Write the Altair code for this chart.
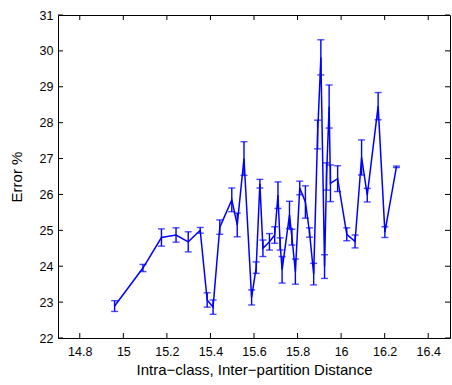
import altair as alt
import pandas as pd

# Data
x_vals = [14.96, 15.09, 15.175, 15.242, 15.298, 15.353, 15.385, 15.412, 15.443, 15.498,
          15.523, 15.554, 15.589, 15.61, 15.627, 15.641, 15.671, 15.695, 15.71, 15.72,
          15.729, 15.763, 15.774, 15.79, 15.81, 15.836, 15.855, 15.874, 15.892, 15.907,
          15.924, 15.933, 15.945, 15.951, 15.984, 16.026, 16.064, 16.094, 16.12, 16.17,
          16.201, 16.254]
y_vals = [22.89, 23.95, 24.80, 24.87, 24.68, 25.00, 23.06, 22.86, 25.09, 25.85,
          25.15, 27.00, 23.13, 23.96, 26.30, 24.50, 24.68, 24.87, 25.98, 24.62,
          23.90, 25.43, 24.81, 23.85, 26.18, 25.79, 24.94, 23.78, 27.67, 29.82,
          23.99, 26.50, 28.45, 26.31, 26.44, 24.89, 24.69, 27.03, 25.98, 28.46,
          24.95, 26.77]
err_vals = [0.15, 0.10, 0.24, 0.20, 0.28, 0.08, 0.20, 0.20, 0.20, 0.33,
            0.33, 0.47, 0.21, 0.16, 0.12, 0.23, 0.23, 0.23, 0.37, 0.17,
            0.37, 0.38, 0.22, 0.35, 0.19, 0.45, 0.13, 0.30, 0.40, 0.49,
            0.33, 0.38, 0.60, 0.51, 0.36, 0.18, 0.18, 0.49, 0.19, 0.38,
            0.15, 0.02]

x_ticks = [14.8, 15.0, 15.2, 15.4, 15.6, 15.8, 16.0, 16.2, 16.4]
y_ticks = [22, 23, 24, 25, 26, 27, 28, 29, 30, 31]

df = pd.DataFrame({"x": x_vals, "y": y_vals, "err": err_vals})
df["lo"] = df["y"] - df["err"]
df["hi"] = df["y"] + df["err"]

W, H = 392, 323
FONT = "Liberation Sans"
BLUE = "#0000ff"

xscale = alt.Scale(domain=[14.7, 16.5], nice=False, zero=False)
yscale = alt.Scale(domain=[22, 31], nice=False, zero=False)

xaxis = alt.Axis(values=x_ticks, format="~g", ticks=False, domain=False,
                 grid=False, labelPadding=7, labelFontSize=12.5,
                 labelFont=FONT, labelColor="black", labelOverlap=False,
                 title="Intra\u2212class, Inter\u2212partition Distance",
                 titleFont=FONT, titleFontSize=15, titleFontWeight="normal",
                 titleColor="black", titlePadding=5)
yaxis = alt.Axis(values=y_ticks, format="d", ticks=False, domain=False,
                 grid=False, labelPadding=5, labelFontSize=12.5,
                 labelFont=FONT, labelColor="black", labelOverlap=False,
                 labelFlush=False,
                 title="Error %", titleFont=FONT, titleFontSize=15,
                 titleFontWeight="normal", titleColor="black",
                 titlePadding=15)

base = alt.Chart(df)

line = base.mark_line(color=BLUE, strokeWidth=1.5).encode(
    x=alt.X("x:Q", scale=xscale, axis=xaxis),
    y=alt.Y("y:Q", scale=yscale, axis=yaxis),
)

bars = base.mark_rule(color=BLUE, strokeWidth=1.4).encode(
    x=alt.X("x:Q", scale=xscale, axis=xaxis),
    y=alt.Y("lo:Q", scale=yscale, axis=yaxis), y2="hi:Q")

caps_hi = base.mark_tick(color=BLUE, orient="horizontal", size=7, thickness=1.4).encode(
    x=alt.X("x:Q", scale=xscale, axis=xaxis),
    y=alt.Y("hi:Q", scale=yscale, axis=yaxis))
caps_lo = base.mark_tick(color=BLUE, orient="horizontal", size=7, thickness=1.4).encode(
    x=alt.X("x:Q", scale=xscale, axis=xaxis),
    y=alt.Y("lo:Q", scale=yscale, axis=yaxis))

xt = alt.Chart(pd.DataFrame({"t": x_ticks}))
yt = alt.Chart(pd.DataFrame({"t": y_ticks}))

tick_bottom = xt.mark_rule(color="black", strokeWidth=1).encode(
    x=alt.X("t:Q", scale=xscale, axis=xaxis), y=alt.value(H), y2=alt.value(H - 5))
tick_top = xt.mark_rule(color="black", strokeWidth=1).encode(
    x=alt.X("t:Q", scale=xscale, axis=xaxis), y=alt.value(0), y2=alt.value(5))
tick_left = yt.mark_rule(color="black", strokeWidth=1).encode(
    y=alt.Y("t:Q", scale=yscale, axis=yaxis), x=alt.value(0), x2=alt.value(5))
tick_right = yt.mark_rule(color="black", strokeWidth=1).encode(
    y=alt.Y("t:Q", scale=yscale, axis=yaxis), x=alt.value(W), x2=alt.value(W - 5))

chart = alt.layer(
    line, tick_bottom, tick_top, tick_left, tick_right, bars, caps_hi, caps_lo
).properties(
    width=W, height=H,
    padding={"left": 58, "top": 15, "right": 2, "bottom": 47},
    autosize="none",
    background="white",
).configure_view(
    stroke="black", strokeWidth=1
)

chart.save("out.html", embed_options={"renderer": "svg", "actions": False})
